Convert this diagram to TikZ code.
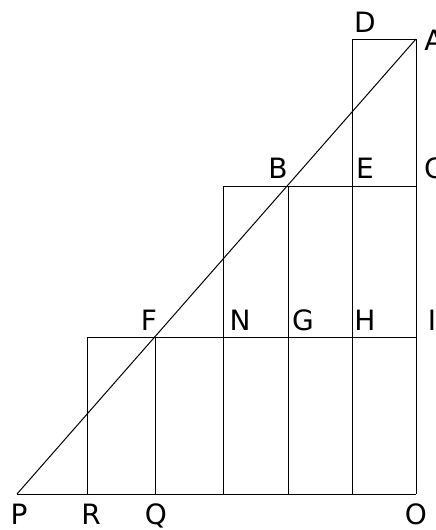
\documentclass[tikz,border=0pt]{standalone}
\usepackage{fontspec}
\setsansfont{DejaVu Sans}
\begin{document}
\begin{tikzpicture}[
    x=1pt, y=-1pt,
    edge/.style = {draw, line width=1pt},
    lbl/.style = {anchor=base, inner sep=0pt, font=\sffamily\fontsize{28}{28}\selectfont}
]
    \useasboundingbox (0,0) rectangle (436,530);

    % Points
    \coordinate (P) at (17,494);
    \coordinate (R) at (87,494);
    \coordinate (Q) at (155,494);
    \coordinate (n0) at (223,494);
    \coordinate (g0) at (288,494);
    \coordinate (h0) at (352,494);
    \coordinate (O) at (416,494);
    \coordinate (r1) at (87,337);
    \coordinate (F) at (155,337);
    \coordinate (N) at (223,337);
    \coordinate (G) at (288,337);
    \coordinate (H) at (352,337);
    \coordinate (I) at (416,337);
    \coordinate (n1) at (223,186);
    \coordinate (B) at (288,186);
    \coordinate (E) at (352,186);
    \coordinate (C) at (416,186);
    \coordinate (D) at (352,39);
    \coordinate (A) at (416,39);

    % Labels
    \node [lbl] (lD) at (365,32) {D};
    \node [lbl] (lA) at (434,50) {A};
    \node [lbl] (lB) at (278,178) {B};
    \node [lbl] (lE) at (365,178) {E};
    \node [lbl] (lC) at (434,178) {C};
    \node [lbl] (lF) at (149,330) {F};
    \node [lbl] (lN) at (240,330) {N};
    \node [lbl] (lG) at (303,330) {G};
    \node [lbl] (lH) at (365,330) {H};
    \node [lbl] (lI) at (432,330) {I};
    \node [lbl] (lP) at (19,524) {P};
    \node [lbl] (lR) at (91,524) {R};
    \node [lbl] (lQ) at (156,524) {Q};
    \node [lbl] (lO) at (416,524) {O};

    % Edges
    \path [edge] (P) -- (O);
    \path [edge] (r1) -- (I);
    \path [edge] (n1) -- (C);
    \path [edge] (D) -- (A);
    \path [edge] (R) -- (r1);
    \path [edge] (Q) -- (F);
    \path [edge] (n0) -- (n1);
    \path [edge] (g0) -- (B);
    \path [edge] (h0) -- (D);
    \path [edge] (O) -- (A);
    \path [edge] (P) -- (A);

\end{tikzpicture}
\end{document}
